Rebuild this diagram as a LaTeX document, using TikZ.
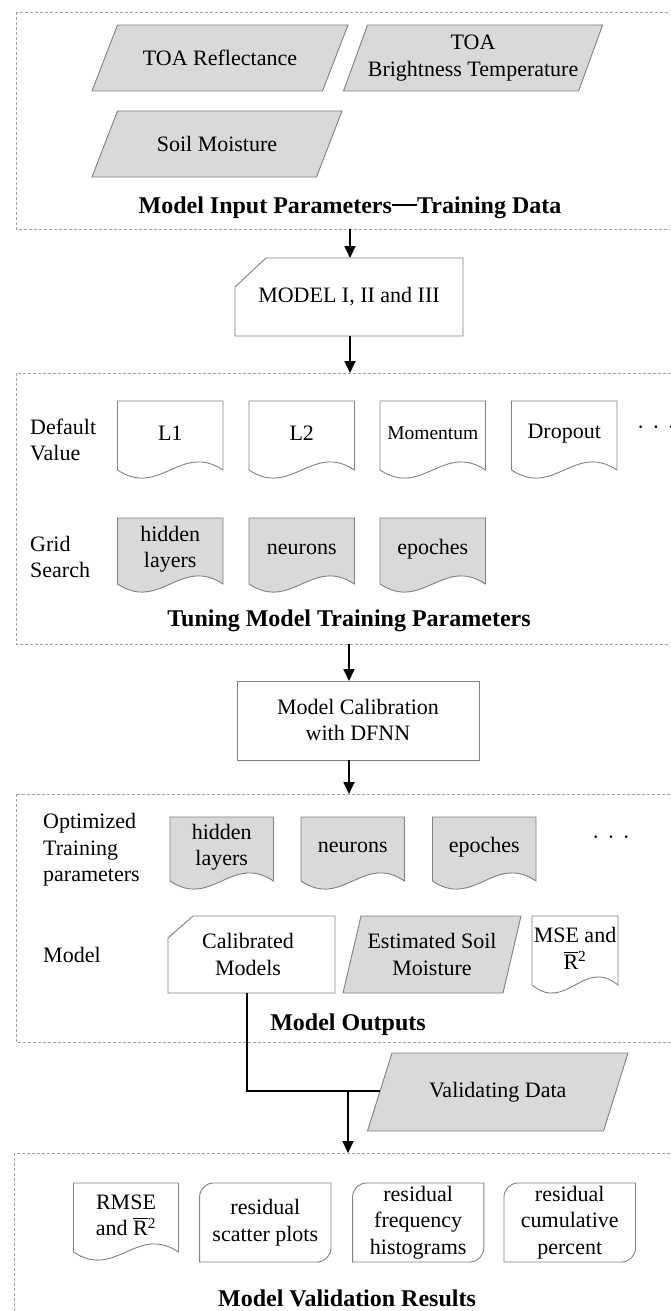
\documentclass[tikz,border=0pt]{standalone}
\usepackage{amsmath}
\usepackage{fontspec}
\setmainfont{Liberation Serif}
\usetikzlibrary{arrows.meta}
\definecolor{shapeline}{HTML}{808080}
\definecolor{shapefill}{HTML}{D9D9D9}
\definecolor{dashgray}{HTML}{A0A0A0}
\tikzset{
 outline/.style={draw=shapeline, line width=0.9pt},
 txt/.style={font=\fontsize{22}{26.5}\selectfont, align=center, inner sep=0pt},
 lbl/.style={font=\fontsize{22}{26.5}\selectfont, align=left, inner sep=0pt, anchor=west},
 ttl/.style={font=\fontsize{24}{28}\selectfont\bfseries, inner sep=0pt},
 group/.style={draw=dashgray, line width=0.8pt, dash pattern=on 3pt off 2pt},
 flow/.style={line width=1.8pt, -{Triangle[length=12pt,width=11pt]}},
 link/.style={line width=1.8pt},
}
% document shape: name, x-left, y-top, width, side height, fill, text
\newcommand\DocShape[7]{%
  \path[outline, fill=#6] (#2,#3) -- ({#2+#4},#3) -- ({#2+#4},{#3+#5})
     .. controls ({#2+0.6*#4},{#3+#5-28}) and ({#2+0.4*#4},{#3+#5+28}) .. (#2,{#3+#5}) -- cycle;
  \node[txt] (#1) at ({#2+0.5*#4},{#3+0.5*#5-2}) {#7};
}
% parallelogram: name, x top-left, x top-right, slant, y-top, y-bottom, text
\newcommand\ParaShape[7]{%
  \path[outline, fill=shapefill] (#2,#5) -- (#3,#5) -- ({#3-#4},#6) -- ({#2-#4},#6) -- cycle;
  \node[txt] (#1) at ({(#2+#3-#4)/2},{(#5+#6)/2}) {#7};
}
% cut-corner box: name, x-left, x-right, y-top, y-bottom, cut-x, cut-y, text x, text
\newcommand\CutShape[9]{%
  \path[outline, fill=white] ({#2+#6},#4) -- (#3,#4) -- (#3,#5) -- (#2,#5) -- (#2,{#4+#7}) -- cycle;
  \node[txt] (#1) at (#8,{(#4+#5)/2}) {#9};
}
% box with rounded top-left and bottom-right corners: name, x-left, x-right, y-top, y-bottom, text
\newcommand\RoundShape[6]{%
  \path[outline, fill=white] ({#2+14},#4) -- (#3,#4) -- (#3,{#5-14})
     .. controls (#3,{#5-6.3}) and ({#3-6.3},#5) .. ({#3-14},#5) -- (#2,#5) -- (#2,{#4+14})
     .. controls (#2,{#4+6.3}) and ({#2+6.3},#4) .. ({#2+14},#4) -- cycle;
  \node[txt] (#1) at ({(#2+#3)/2},{(#4+#5)/2}) {#6};
}
\newcommand\Rbar{$\overline{\text{R}}$\textsuperscript{2}}
\newcommand\BarDash{\rule[0.3em]{1.05em}{0.11em}}
\begin{document}
\begin{tikzpicture}[x=1pt,y=-1pt]
\path[use as bounding box, clip] (0,0) rectangle (670,1311);
\fill[white] (0,0) rectangle (670,1311);

% ---------- group 1 ----------
\draw[group] (16,12) rectangle (720,229);
\ParaShape{toar}{117.5}{348}{25.5}{25}{91}{TOA Reflectance}
\ParaShape{toab}{367.5}{602.6}{24}{25}{91}{TOA\\Brightness Temperature}
\ParaShape{soil}{117.5}{342}{25.5}{111}{177}{Soil Moisture}
\node[ttl] (t1) at (350,208) {Model Input Parameters\BarDash Training Data};
\coordinate (g1b) at (350,229);

\CutShape{model}{235}{463}{258}{336}{31}{29}{349}{MODEL I, II and III}
\coordinate (modelt) at (350,258);
\coordinate (modelb) at (350,336);
\draw[flow] (g1b) -- (modelt);

% ---------- group 2 ----------
\draw[group] (16,373) rectangle (720,644);
\coordinate (g2t) at (350,373);
\draw[flow] (modelb) -- (g2t);
\node[lbl] (defval) at (30,440) {Default\\Value};
\DocShape{l1}{117.5}{401}{105.5}{69}{white}{L1}
\DocShape{l2}{249}{401}{105.5}{69}{white}{L2}
\DocShape{mom}{380}{401}{105.5}{69}{white}{\fontsize{19.5}{23}\selectfont Momentum}
\DocShape{drop}{511.5}{401}{105.5}{69}{white}{Dropout}
\node[txt] (dots1) at (656,430) {\textperiodcentered\hspace{8pt}\textperiodcentered\hspace{8pt}\textperiodcentered};
\node[lbl] (grids) at (30,557) {Grid\\Search};
\DocShape{hid1}{117.5}{518}{105.5}{66}{shapefill}{hidden\\layers}
\DocShape{neu1}{249}{518}{105.5}{66}{shapefill}{neurons}
\DocShape{epo1}{380}{518}{105.5}{66}{shapefill}{epoches}
\node[ttl] (t2) at (349,621) {Tuning Model Training Parameters};
\coordinate (g2b) at (349,644);

\path[outline, fill=white] (237,681) rectangle (479,760);
\node[txt] (calib) at (358,720) {Model Calibration\\with DFNN};
\coordinate (calibt) at (349,681);
\coordinate (calibb) at (349,760);
\draw[flow] (g2b) -- (calibt);

% ---------- group 3 ----------
\draw[group] (16,794) rectangle (720,1042);
\coordinate (g3t) at (349,794);
\draw[flow] (calibb) -- (g3t);
\node[lbl] (optp) at (43,850) {Optimized\\Training\\parameters};
\DocShape{hid2}{170}{817}{103.5}{64}{shapefill}{hidden\\layers}
\DocShape{neu2}{301}{817}{103.5}{64}{shapefill}{neurons}
\DocShape{epo2}{432.5}{817}{103.5}{64}{shapefill}{epoches}
\node[txt] (dots2) at (611,840) {\textperiodcentered\hspace{8pt}\textperiodcentered\hspace{8pt}\textperiodcentered};
\node[lbl] (modl) at (43,955) {Model};
\CutShape{calm}{168}{335}{916}{993}{25}{22}{248}{Calibrated\\Models}
\ParaShape{esm}{361}{521}{18}{916}{993}{Estimated Soil\\Moisture}
\DocShape{mse}{532}{916}{86}{69}{white}{MSE and\\\Rbar}
\node[ttl] (t3) at (348,1025) {Model Outputs};

% ---------- validating ----------
\ParaShape{val}{392}{628}{24.5}{1053}{1131}{Validating Data}
\coordinate (calmb) at (247,993);
\coordinate (valL) at (380,1091);
\coordinate (junc) at (348,1091);
\draw[link] (calmb) |- (valL);

% ---------- group 4 ----------
\draw[group] (14,1153) rectangle (720,1360);
\coordinate (g4t) at (348,1153);
\draw[flow] (junc) -- (g4t);
\DocShape{rmse}{73.5}{1183}{105}{69}{white}{RMSE\\and \Rbar}
\RoundShape{rsp}{199.6}{331}{1183}{1262}{residual\\scatter plots}
\RoundShape{rfh}{352.6}{483.8}{1183}{1262}{residual\\frequency\\histograms}
\RoundShape{rcp}{504}{635.5}{1183}{1262}{residual\\cumulative\\percent}
\node[ttl] (t4) at (347,1298) {Model Validation Results};
\end{tikzpicture}
\end{document}
